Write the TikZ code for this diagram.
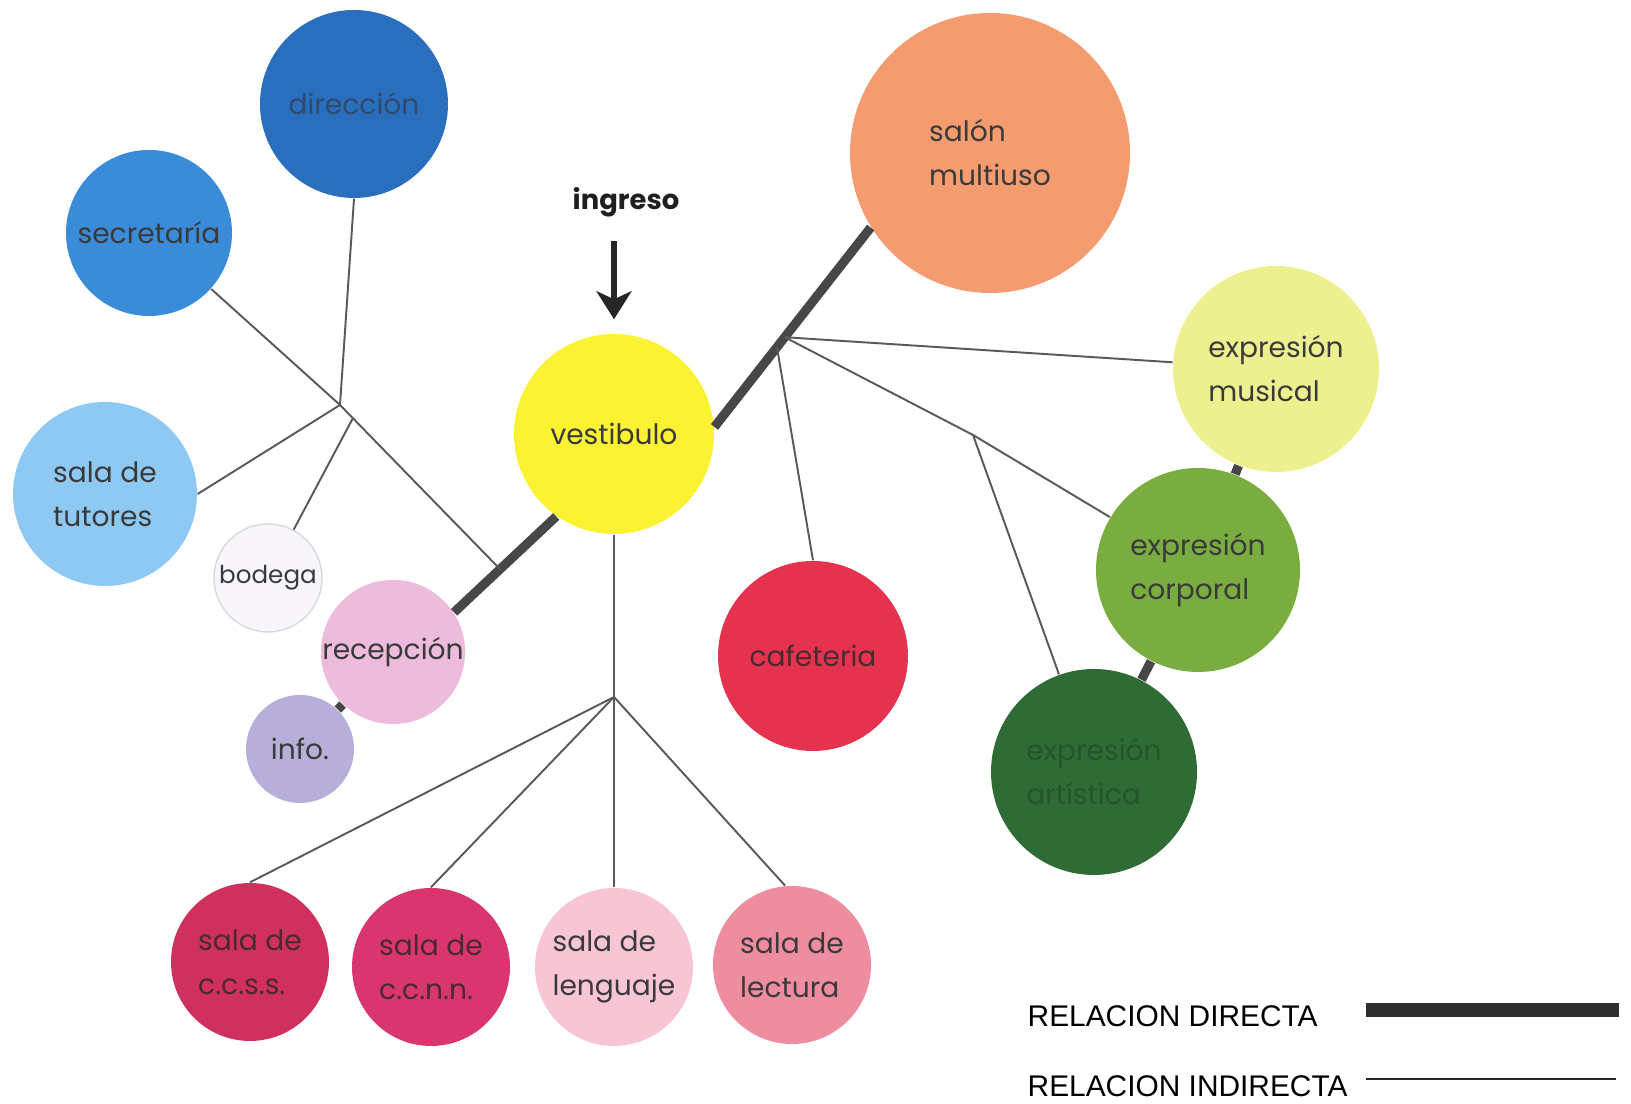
\documentclass[tikz,border=0pt]{standalone}
\usepackage{fontspec}
\setmainfont{Poppins}
\newfontfamily\legendfont{Liberation Sans}
\usetikzlibrary{calc,arrows.meta}

\definecolor{cDireccion}{HTML}{2A6EBE}
\definecolor{cSecretaria}{HTML}{3A8CD8}
\definecolor{cTutores}{HTML}{8EC9F3}
\definecolor{cBodega}{HTML}{F8F6FA}
\definecolor{cRecepcion}{HTML}{EDBCDD}
\definecolor{cInfo}{HTML}{B7AFD9}
\definecolor{cVestibulo}{HTML}{FAF232}
\definecolor{cSalon}{HTML}{F49B70}
\definecolor{cMusical}{HTML}{EDF08E}
\definecolor{cCorporal}{HTML}{79AD3F}
\definecolor{cArtistica}{HTML}{2F6B34}
\definecolor{cCafeteria}{HTML}{E5334F}
\definecolor{cCcss}{HTML}{D0305E}
\definecolor{cCcnn}{HTML}{D9356E}
\definecolor{cLenguaje}{HTML}{F7C5D3}
\definecolor{cLectura}{HTML}{EE8CA0}
\definecolor{tDark}{HTML}{3A3A3A}
\definecolor{tDireccion}{HTML}{30496C}
\definecolor{tArtistica}{HTML}{24552A}
\definecolor{tRed}{HTML}{4A2A30}

\tikzset{
  room/.style={circle, inner sep=0pt, align=left, text=tDark,
    font=\fontsize{8}{12.5}\selectfont},
  directa/.style={line width=2.6pt, draw=black!72},
  indirecta/.style={line width=0.55pt, draw=black!65},
  ingarrow/.style={line width=1.6pt, draw=black!85,
    -{Stealth[length=2.8mm, width=3.5mm, inset=0.8mm]}},
  legendtext/.style={anchor=west, inner sep=0pt, font=\legendfont\fontsize{8.5}{10}\selectfont},
}

\begin{document}
\begin{tikzpicture}
\useasboundingbox (0,0) rectangle (16.31,11.04);
%%%%% START %%%%%

\node[room, fill=cDireccion, minimum size=1.88cm, text=tDireccion] (direccion) at (3.54,10.00) {dirección};
\node[room, fill=cSecretaria, minimum size=1.66cm] (secretaria) at (1.49,8.71) {secretaría};
\node[room, fill=cTutores, minimum size=1.84cm] (tutores) at (1.05,6.10) {sala de\\tutores};
\node[room, fill=cBodega, draw=black!15, minimum size=1.08cm, font=\fontsize{7}{9}\selectfont] (bodega) at (2.68,5.26) {bodega};
\node[room, fill=cRecepcion, minimum size=1.42cm] (recepcion) at (3.93,4.52) {recepción};
\node[room, fill=cInfo, minimum size=1.08cm] (info) at (3.00,3.55) {info.};

\node[room, fill=cVestibulo, minimum size=2.00cm] (vestibulo) at (6.14,6.70) {vestibulo};
\node[font=\bfseries\fontsize{7.8}{10}\selectfont, text=black!88] (ingreso) at (6.26,9.02) {ingreso};

\node[room, fill=cSalon, minimum size=2.80cm] (salon) at (9.90,9.51) {salón\\multiuso};
\node[room, fill=cMusical, minimum size=2.06cm] (musical) at (12.76,7.35) {expresión\\musical};
\node[room, fill=cCorporal, minimum size=2.04cm] (corporal) at (11.98,5.34) {expresión\\corporal};
\node[room, fill=cArtistica, minimum size=2.06cm, text=tArtistica] (artistica) at (10.94,3.32) {expresión\\artística};
\node[room, fill=cCafeteria, minimum size=1.90cm, text=tRed] (cafeteria) at (8.13,4.48) {cafeteria};

\node[room, fill=cCcss, minimum size=1.58cm, text=tRed] (ccss) at (2.50,1.42) {sala de\\c.c.s.s.};
\node[room, fill=cCcnn, minimum size=1.58cm, text=tRed] (ccnn) at (4.31,1.37) {sala de\\c.c.n.n.};
\node[room, fill=cLenguaje, minimum size=1.58cm] (lenguaje) at (6.14,1.37) {sala de\\lenguaje};
\node[room, fill=cLectura, minimum size=1.58cm] (lectura) at (7.92,1.39) {sala de\\lectura};

% relacion directa
\draw[directa] (recepcion.33) -- (vestibulo.235);
\draw[directa] (vestibulo.4) -- (salon.212);
\draw[directa] (info) -- (recepcion);
\draw[directa] (musical) -- (corporal);
\draw[directa] (corporal) -- (artistica);

% relacion indirecta
\coordinate (j1) at (3.40,6.99);
\coordinate (jb) at (3.53,6.86);
\coordinate (j5) at ($(recepcion.33)!0.45!(vestibulo.235)$);
\coordinate (j2) at ($(vestibulo.4)!0.45!(salon.212)$);
\coordinate (j2b) at ($(vestibulo.4)!0.40!(salon.212)$);
\coordinate (j3) at (9.73,6.69);
\coordinate (j4) at (6.14,4.07);

\draw[indirecta] (direccion.south) -- (j1);
\draw[indirecta] (secretaria) -- (j1) -- (j5);
\draw[indirecta] (j1) -- (tutores.east);
\draw[indirecta] (jb) -- (bodega);

\draw[indirecta] (j2) -- (musical);
\draw[indirecta] (j2) -- (j3) -- (corporal);
\draw[indirecta] (j3) -- (artistica);
\draw[indirecta] (j2b) -- (cafeteria.north);

\draw[indirecta] (vestibulo.south) -- (j4) -- (lenguaje.north);
\draw[indirecta] (j4) -- (ccss.north);
\draw[indirecta] (j4) -- (ccnn.north);
\draw[indirecta] (j4) -- (lectura.95);

\draw[ingarrow] ([yshift=-1.2mm]ingreso.south -| vestibulo.north) -- ([yshift=1.4mm]vestibulo.north);

% leyenda
\node[legendtext] (ldirecta) at (10.27,0.88) {RELACION DIRECTA};
\node[legendtext] (lindirecta) at (10.27,0.18) {RELACION INDIRECTA};
\coordinate (ld1) at (13.66,0.94);
\coordinate (ld2) at (16.19,0.94);
\coordinate (li1) at (13.66,0.25);
\coordinate (li2) at (16.16,0.25);
\draw[line width=3.8pt, draw=black!82] (ld1) -- (ld2);
\draw[line width=0.8pt, draw=black!85] (li1) -- (li2);

%%%%% END %%%%%
\end{tikzpicture}
\end{document}
